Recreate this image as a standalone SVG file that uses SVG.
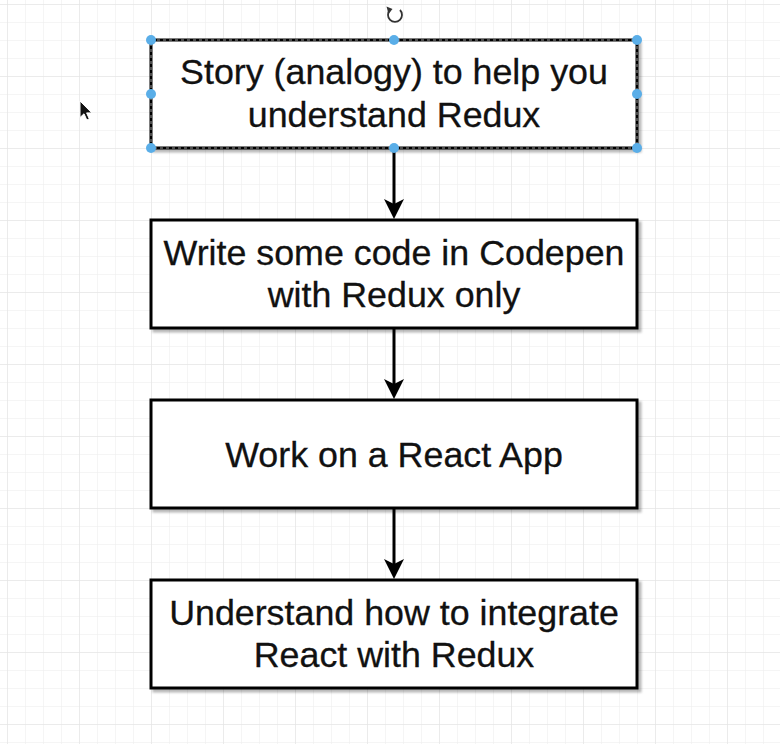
<svg xmlns="http://www.w3.org/2000/svg" width="780" height="744" viewBox="0 0 780 744">
<defs>
<pattern id="minor" x="7" y="4" width="18" height="18" patternUnits="userSpaceOnUse">
<path d="M0,0 H18 M0,0 V18" fill="none" stroke="#ececec" stroke-width="1"/>
</pattern>
<pattern id="major" x="7" y="4" width="72" height="72" patternUnits="userSpaceOnUse">
<path d="M0,0 H72 M0,0 V72" fill="none" stroke="#e2e2e2" stroke-width="1"/>
</pattern>
<filter id="shadow" x="-5%" y="-10%" width="115%" height="130%">
<feDropShadow dx="3" dy="3" stdDeviation="1.2" flood-color="#000" flood-opacity="0.28"/>
</filter>
</defs>
<style>
.box{fill:#fff;stroke:#000;stroke-width:3;filter:url(#shadow)}
.lbl{font-family:"Liberation Sans",Arial,Helvetica,sans-serif;font-size:35.8px;fill:#111;text-anchor:middle;stroke:#111;stroke-width:0.3}
.edge{stroke:#000;stroke-width:3;fill:none}
.head{fill:#000}
.handle{fill:#5aaee8}
</style>
<rect width="780" height="744" fill="#fff"/>
<rect width="780" height="744" fill="url(#minor)"/>
<rect width="780" height="744" fill="url(#major)"/>

<g id="connectors">
<path class="edge" d="M394,148 V206"/>
<path class="head" d="M394,219 L384,199 L394,204 L404,199 Z"/>
<path class="edge" d="M394,328 V386"/>
<path class="head" d="M394,399 L384,379 L394,384 L404,379 Z"/>
<path class="edge" d="M394,508 V566"/>
<path class="head" d="M394,579 L384,559 L394,564 L404,559 Z"/>
</g>

<g id="node1">
<rect class="box" x="151" y="40" width="486" height="108"/>
<rect x="151" y="40" width="486" height="108" fill="none" stroke="#fff" stroke-width="1" stroke-dasharray="3 3" opacity="0.6"/>
<text class="lbl" x="394" y="84">Story (analogy) to help you</text>
<text class="lbl" x="394" y="127">understand Redux</text>
</g>
<g id="node2">
<rect class="box" x="151" y="220" width="486" height="108"/>
<text class="lbl" x="394" y="265">Write some code in Codepen</text>
<text class="lbl" x="394" y="307">with Redux only</text>
</g>
<g id="node3">
<rect class="box" x="151" y="400" width="486" height="108"/>
<text class="lbl" x="394" y="467">Work on a React App</text>
</g>
<g id="node4">
<rect class="box" x="151" y="580" width="486" height="108"/>
<text class="lbl" x="394" y="625">Understand how to integrate</text>
<text class="lbl" x="394" y="667">React with Redux</text>
</g>

<g id="selection">
<circle class="handle" cx="151" cy="40" r="5"/>
<circle class="handle" cx="394" cy="40" r="5"/>
<circle class="handle" cx="637" cy="40" r="5"/>
<circle class="handle" cx="151" cy="94" r="5"/>
<circle class="handle" cx="637" cy="94" r="5"/>
<circle class="handle" cx="151" cy="148" r="5"/>
<circle class="handle" cx="394" cy="148" r="5"/>
<circle class="handle" cx="637" cy="148" r="5"/>
<g id="rotate">
<path d="M390,10 A7,7 0 1 0 400,10" fill="none" stroke="#333" stroke-width="1.8"/>
<path d="M386.5,6.5 L392.5,9 L388.5,14 Z" fill="#333"/>
</g>
</g>

<g id="cursor">
<path d="M80,101 L80,117.5 L84,113.8 L86.8,120 L89.3,118.9 L86.6,112.9 L91.8,112.9 Z" fill="#111" stroke="#fff" stroke-width="1"/>
</g>
</svg>
